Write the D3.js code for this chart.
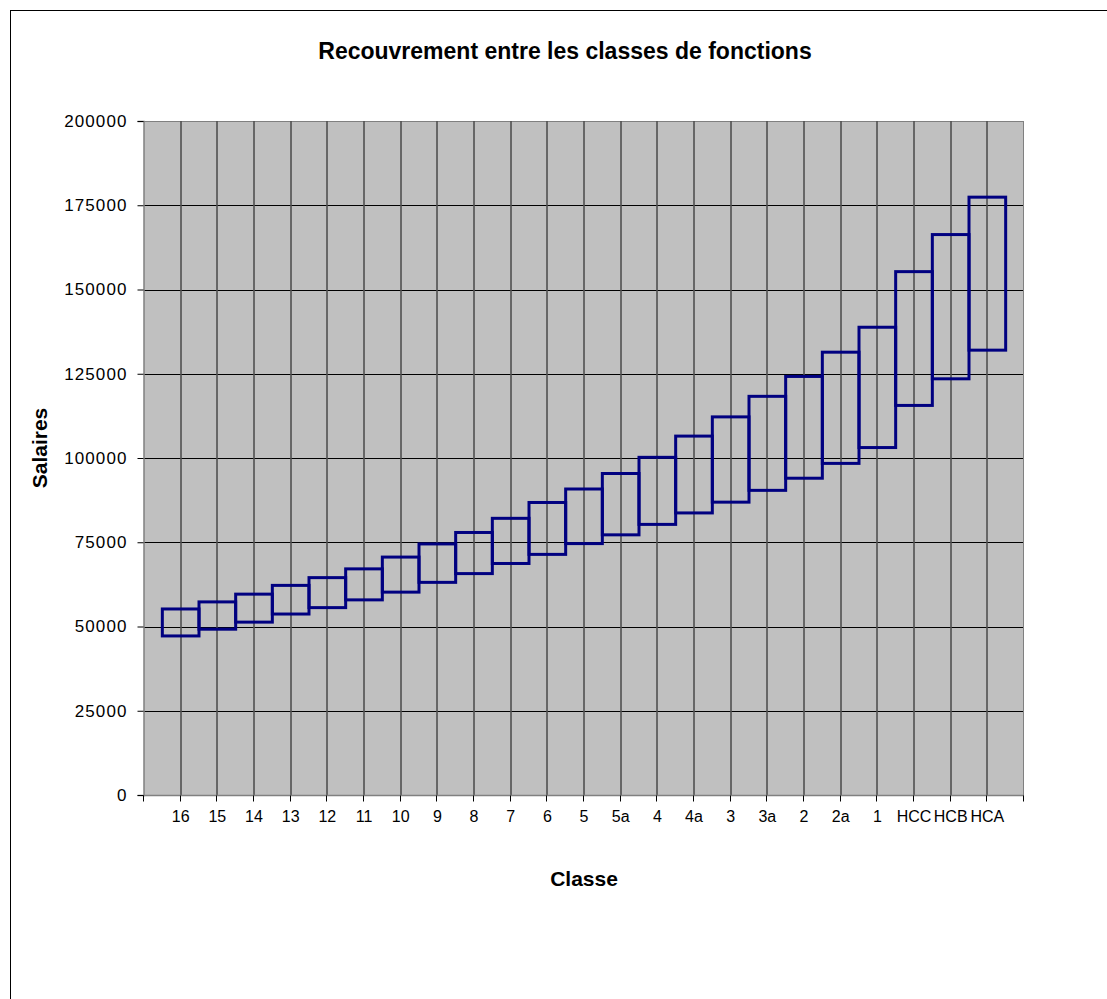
<!DOCTYPE html>
<html>
<head>
<meta charset="utf-8">
<script src="https://cdn.jsdelivr.net/npm/d3@7"></script>
<style>
  html, body { margin: 0; padding: 0; background: #fff; }
  svg { display: block; font-family: Arial, "Liberation Sans", sans-serif; }
</style>
</head>
<body>
<svg id="chart" width="1107" height="999"></svg>
<script>
// Salary ranges per function class (CHF)
const classes = ["16","15","14","13","12","11","10","9","8","7","6","5","5a","4","4a","3","3a","2","2a","1","HCC","HCB","HCA"];
const minSalaries = [47200, 49200, 51300, 53700, 55600, 57900, 60200, 63100, 65700, 68700, 71400, 74600, 77200, 80300, 83700, 86900, 90400, 94000, 98400, 103100, 115600, 123500, 132000];
const maxSalaries = [55200, 57300, 59600, 62200, 64500, 67100, 70600, 74500, 77900, 82100, 86800, 90800, 95400, 100200, 106500, 112200, 118300, 124200, 131400, 138800, 155300, 166300, 177400];
const yTicks = [0, 25000, 50000, 75000, 100000, 125000, 150000, 175000, 200000];

const svg = d3.select("#chart");
const plot = { left: 144, right: 1024, top: 121, bottom: 795 };

// Category slots: one empty slot on each side, boxes centred on inner gridlines
const nSlots = classes.length + 1;
const x = d3.scaleLinear().domain([0, nSlots]).range([plot.left, plot.right]);
const y = d3.scaleLinear().domain([0, 200000]).range([plot.bottom, plot.top]);

// Outer chart frame
svg.append("rect")
  .attr("x", 10.5).attr("y", 10.5)
  .attr("width", 1200).attr("height", 1200)
  .attr("fill", "#fff").attr("stroke", "#000").attr("stroke-width", 1);

// Plot background
svg.append("rect")
  .attr("x", plot.left).attr("y", plot.top)
  .attr("width", plot.right - plot.left).attr("height", plot.bottom - plot.top)
  .attr("fill", "#c0c0c0");

// Horizontal gridlines (top one doubles as the grey plot edge)
svg.append("g").selectAll("line")
  .data(yTicks)
  .join("line")
  .attr("x1", plot.left).attr("x2", plot.right)
  .attr("y1", d => Math.round(y(d)) + 0.5).attr("y2", d => Math.round(y(d)) + 0.5)
  .attr("stroke", d => d === 200000 ? "#808080" : "#000").attr("stroke-width", 1);

// Vertical gridlines at each slot boundary
const slotEdges = d3.range(0, nSlots + 1);
svg.append("g").selectAll("line")
  .data(slotEdges.slice(1, -1))
  .join("line")
  .attr("x1", d => Math.round(x(d))).attr("x2", d => Math.round(x(d)))
  .attr("y1", plot.top).attr("y2", plot.bottom)
  .attr("stroke", "#505050").attr("stroke-width", 1.6);

// Right edge of plot
svg.append("line")
  .attr("x1", plot.right - 0.5).attr("x2", plot.right - 0.5)
  .attr("y1", plot.top).attr("y2", plot.bottom)
  .attr("stroke", "#808080").attr("stroke-width", 1);

// Y axis
const yAxis = d3.axisLeft(y).tickValues(yTicks).tickSize(6).tickPadding(10).tickFormat(d3.format("d"));
const gy = svg.append("g").attr("transform", `translate(${plot.left - 0.5},0)`).call(yAxis);
gy.select(".domain").attr("stroke", "#808080").attr("stroke-width", 1.5);
gy.selectAll(".tick line").attr("stroke", "#000");
gy.selectAll(".tick text")
  .attr("font-size", 17).attr("fill", "#000")
  .attr("font-family", "Arial, 'Liberation Sans', sans-serif")
  .attr("letter-spacing", 1.1);

// X axis: ticks on every slot boundary, labels on the class positions
const gx = svg.append("g").attr("transform", `translate(0,${plot.bottom + 0.5})`);
gx.append("line")
  .attr("x1", plot.left).attr("x2", plot.right)
  .attr("stroke", "#808080").attr("stroke-width", 1.5);
gx.selectAll("line.tick")
  .data(slotEdges)
  .join("line")
  .attr("class", "tick")
  .attr("x1", d => Math.round(x(d)) - 0.5).attr("x2", d => Math.round(x(d)) - 0.5)
  .attr("y1", 0).attr("y2", 6)
  .attr("stroke", "#000");
gx.selectAll("text")
  .data(classes)
  .join("text")
  .attr("x", (d, i) => x(i + 1))
  .attr("y", 26)
  .attr("text-anchor", "middle")
  .attr("font-size", 16)
  .attr("fill", "#000")
  .text(d => d);

// Salary range boxes
svg.append("g").selectAll("rect")
  .data(classes.map((c, i) => ({ c, i, lo: minSalaries[i], hi: maxSalaries[i] })))
  .join("rect")
  .attr("x", d => x(d.i + 0.5))
  .attr("width", d => x(d.i + 1.5) - x(d.i + 0.5))
  .attr("y", d => y(d.hi))
  .attr("height", d => y(d.lo) - y(d.hi))
  .attr("fill", "none")
  .attr("stroke", "#000080")
  .attr("stroke-width", 3);

// Titles
svg.append("text")
  .attr("x", 565).attr("y", 59)
  .attr("text-anchor", "middle")
  .attr("font-size", 23).attr("font-weight", "bold")
  .text("Recouvrement entre les classes de fonctions");

svg.append("text")
  .attr("x", 584).attr("y", 886)
  .attr("text-anchor", "middle")
  .attr("font-size", 21).attr("font-weight", "bold")
  .text("Classe");

svg.append("text")
  .attr("transform", "translate(47,448) rotate(-90)")
  .attr("text-anchor", "middle")
  .attr("font-size", 21).attr("font-weight", "bold")
  .text("Salaires");
</script>
</body>
</html>
